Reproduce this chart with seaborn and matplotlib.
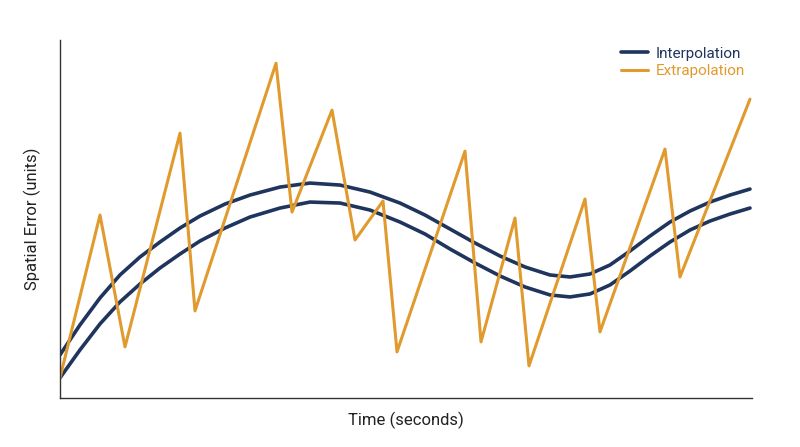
import matplotlib
matplotlib.use("Agg")
import matplotlib.pyplot as plt
import seaborn as sns

sns.set_theme(style="white")
plt.rcParams['font.family'] = ['Roboto', 'DejaVu Sans']

# pixel-read values converted to data units
interp_x_px = [60, 80, 100, 120, 140, 160, 180, 200, 225, 250, 280, 310, 340, 370, 400, 425,
               450, 475, 500, 525, 550, 570, 590, 610, 630, 650, 670, 690, 710, 730, 750]
interp_hi_px = [355, 325, 298, 275, 257, 242, 228, 216, 204, 195, 187, 183, 185, 192, 203, 215,
                229, 243, 256, 267, 275, 277, 274, 265, 251, 236, 222, 211, 202, 195, 189]
interp_lo_px = [378, 350, 324, 302, 284, 268, 254, 241, 228, 217, 208, 202, 203, 210, 222, 234,
                249, 263, 276, 287, 295, 297, 294, 285, 271, 256, 242, 230, 221, 214, 208]
extrap_x_px = [60, 100, 125, 180, 195, 276, 292, 332, 355, 383, 397, 465, 481, 515, 529, 585, 600, 665, 680, 750]
extrap_y_px = [378, 215, 347, 133, 311, 63, 212, 110, 240, 201, 352, 151, 342, 218, 366, 199, 332, 149, 277, 99]

tx = lambda v: [(p - 60) / 69.2 for p in v]
ty = lambda v: [(398 - p) / 10 for p in v]

navy = "#1f355e"
orange = "#e09a2e"

fig = plt.figure(figsize=(8, 4.47), dpi=100)
ax = fig.add_axes([0.075, 0.11, 0.865, 0.80])

sns.lineplot(x=tx(interp_x_px), y=ty(interp_hi_px), ax=ax, color=navy, lw=2.6, label="Interpolation")
sns.lineplot(x=tx(interp_x_px), y=ty(interp_lo_px), ax=ax, color=navy, lw=2.6)
sns.lineplot(x=tx(extrap_x_px), y=ty(extrap_y_px), ax=ax, color=orange, lw=2.2, label="Extrapolation")

ax.set_xlim(0, 10)
ax.set_ylim(0, 35.8)
ax.set_xticks([])
ax.set_yticks([])
ax.set_xlabel("Time (seconds)", fontsize=12, color="#222222", labelpad=10)
ax.set_ylabel("Spatial Error (units)", fontsize=12, color="#222222", labelpad=14)
for s in ["top", "right"]:
    ax.spines[s].set_visible(False)
for s in ["left", "bottom"]:
    ax.spines[s].set_color("#333333")
    ax.spines[s].set_linewidth(1)

leg = ax.legend(loc="upper right", frameon=False, fontsize=11, handlelength=1.8,
                bbox_to_anchor=(1.01, 1.02), handletextpad=0.5, labelspacing=0.2)
for t, c in zip(leg.get_texts(), [navy, orange]):
    t.set_color(c)

fig.savefig("out.png", dpi=100)
